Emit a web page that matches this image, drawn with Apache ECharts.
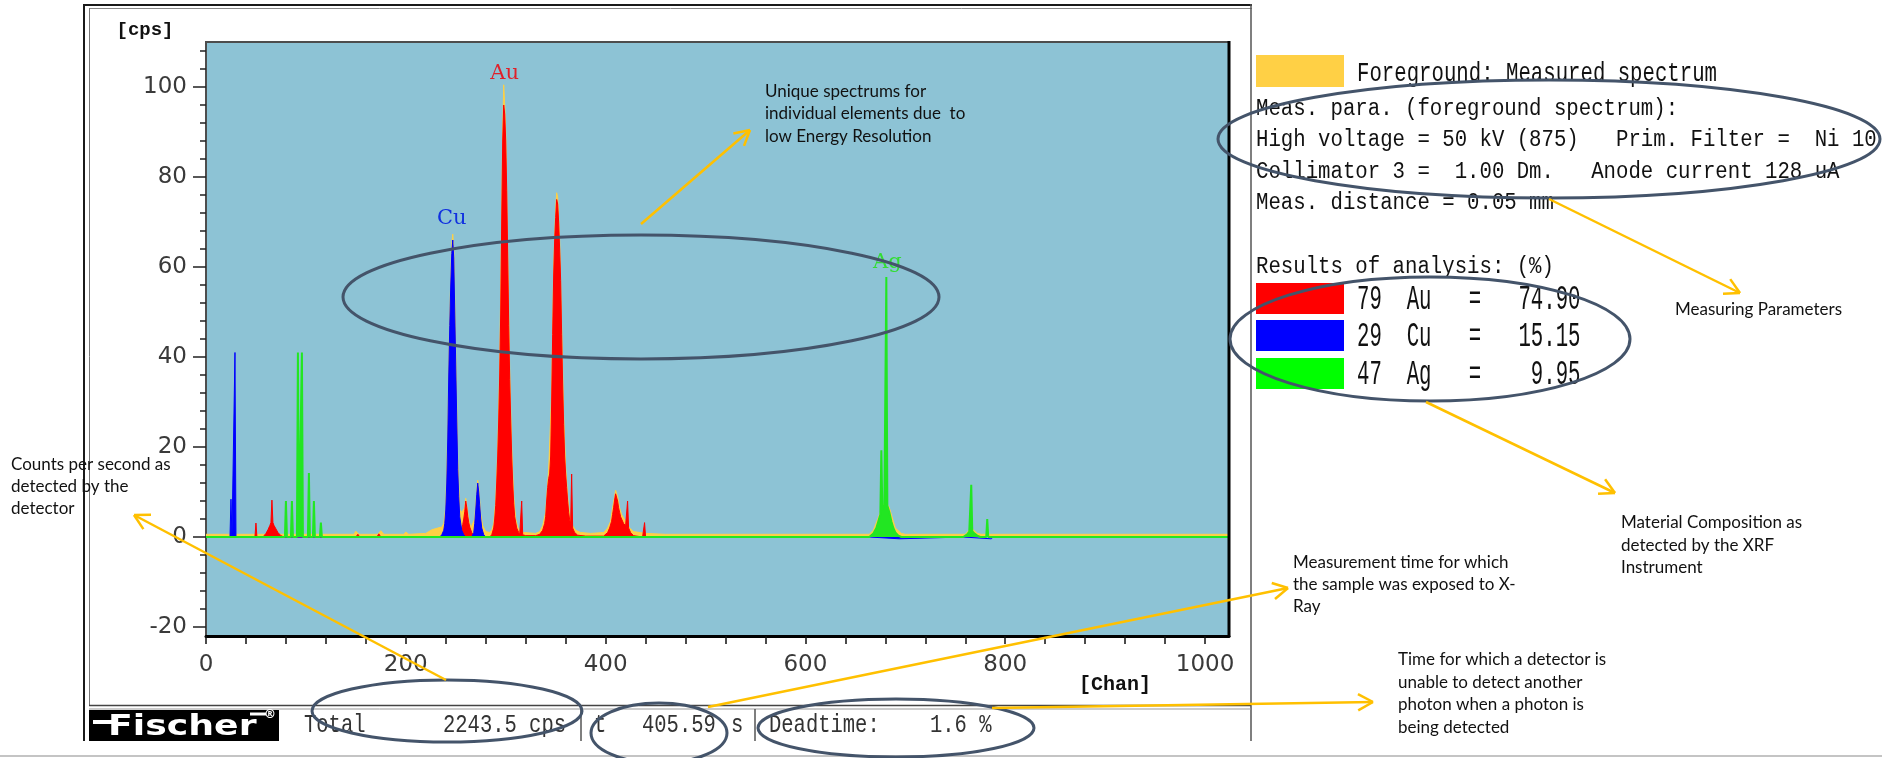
<!DOCTYPE html>
<html><head><meta charset="utf-8">
<script src="https://cdn.jsdelivr.net/npm/echarts@6/dist/echarts.min.js"></script>
<style>html,body{margin:0;padding:0;background:#fff}#c{width:1882px;height:758px}</style>
</head><body><div id="c"></div><script>
// ---------- data ----------
const xTickValues = [0,40,80,120,160,200,240,280,320,360,400,440,480,520,560,600,640,680,720,760,800,840,880,920,960,1000];
const xLabelValues = [0,200,400,600,800,1000];
const yMinorTickValues = [-20,-16,-12,-8,-4,0,4,8,12,16,20,24,28,32,36,40,44,48,52,56,60,64,68,72,76,80,84,88,92,96,100,104,108];
const yLabelValues = [-20,0,20,40,60,80,100];

// [channel, cps]
const auSpectrum = [[44,0],[49,0],[50,3.1],[51,0],[57,0],[60,0.8],[62,1.6],[64,2.6],[65,3.2],[66,8.2],[67,3.2],[68,2.6],[70,1.8],[72,1],[75,0.3],[78,0],[150,0],[152,0.6],[154,0],[171,0],[173,0.7],[175,0],[252,0],[254,0.6],[256,1.6],[257,2.8],[258,4],[259,5.6],[260,8],[261,6.6],[262,4.6],[263,3.2],[264,2.2],[266,1],[268,0.3],[284,0],[286,0.5],[288,2],[289,4],[290,7],[291,12],[292,18],[293,26],[294,36],[295,50],[296,70],[297,88],[298,96],[299,94],[300,88],[301,77],[302,62],[303,47],[304,35],[305,26],[306,18],[307,12],[308,7.5],[309,4.5],[311,2],[313,1],[314,0.5],[315,0.5],[316,8],[317,0.5],[320,0.3],[330,0.3],[334,0.6],[337,1.5],[339,3],[340,4.5],[341,8],[342,11],[343,13],[344,14],[345,18],[346,30],[347,45],[348,58],[349,66],[350,71],[351,75],[352,74],[353,70],[354,64],[355,57],[356,45],[357,34],[358,25],[359,18],[360,14],[361,11],[362,8],[363,5.5],[364,3.8],[365,3],[366,14],[367,2],[369,1],[372,0.4],[380,0.2],[398,0.2],[402,1],[404,2],[406,3.5],[407,5],[408,6.5],[409,8.2],[410,9.6],[411,9.4],[412,8],[413,6.5],[414,5.5],[415,4.5],[416,4],[418,3],[420,2.5],[421,2.5],[422,8],[423,2],[425,1],[428,0.3],[437,0],[438,0],[439,3.2],[440,0],[445,0]];
const cuSpectrum = [[18,0],[24,0],[25,8.4],[26,0],[28,0],[29,41],[30,0],[36,0],[234,0],[236,0.5],[238,1.5],[239,3],[240,6],[241,12],[242,22],[243,36],[244,47],[245,56],[246,63],[247,66],[248,62],[249,50],[250,38],[251,26],[252,15],[253,9],[254,4.5],[256,1.5],[258,0.5],[260,0],[266,0],[268,1],[269,3],[270,6],[271,9.5],[272,12],[273,10],[274,7],[275,4],[276,2],[278,0.5],[280,0],[664,0],[666,-0.4],[694,-0.4],[696,0],[758,0],[760,-0.4],[786,-0.4],[788,0]];
const agSpectrum = [[0,0],[79,0],[80,8],[81,0],[85,0],[86,8],[87,0],[91,0],[92,41],[93,0],[95,0],[96,41],[97,0],[102,0],[103,14.2],[104,0],[107,0],[108,8],[109,0],[114,0],[115,3.2],[116,0],[664,0],[668,0.8],[671,2],[673,3.5],[675,5],[676,19.3],[677,6],[679,7],[680,7.3],[681,57.8],[682,7],[684,5.5],[686,3.5],[688,2],[690,1],[693,0.3],[696,0],[758,0],[762,0.6],[764,1.2],[766,11.6],[767,1.3],[769,0.8],[772,0.3],[775,0],[781,0],[782,4],[783,0],[1024,0]];
const measuredSpectrum = [[0,0.6],[148,0.6],[150,1.3],[153,0.6],[172,0.6],[175,1.4],[178,0.6],[198,0.6],[200,1.1],[203,0.6],[220,0.8],[226,1.6],[232,2],[236,2.2],[238,3],[240,6.5],[242,23],[244,49],[246,65],[247,67.3],[248,64],[250,40],[252,17],[254,6],[256,5.5],[258,5.8],[259,6.5],[260,8.6],[261,7],[263,4],[265,2],[267,1.6],[269,4],[271,10],[272,12.6],[273,11],[275,5],[277,2.5],[280,1.2],[284,1],[286,1.5],[288,3],[290,8],[292,19],[294,38],[296,72],[297,90],[298,100.5],[299,96],[300,90],[302,64],[304,37],[306,20],[308,9],[310,4],[312,2.2],[314,1.2],[318,1],[330,0.8],[334,1.2],[337,2.5],[340,5.5],[343,15],[346,32],[348,60],[350,73],[351,76.5],[352,75.5],[354,66],[356,47],[358,27],[360,15.5],[362,9],[364,5],[367,2.5],[370,1.5],[375,1],[385,0.8],[398,1],[402,2],[405,3.5],[407,6.5],[409,9],[410,10.4],[411,10.2],[412,9],[414,6.5],[416,5],[420,3.5],[424,2],[428,1.2],[440,0.8],[460,0.6],[664,0.6],[668,1.5],[676,6],[680,8],[684,6.5],[690,2],[696,0.8],[700,0.6],[760,0.6],[766,2],[772,0.8],[776,0.6],[1024,0.6]];

const peakNames = ['Au','Cu','Ag'];
const peakLabelChannel = [299,246,682];
const peakLabelCps = [103,70.7,61];

const elementSymbols = ['Au','Cu','Ag'];
const atomicNumbers = [79,29,47];
const compositionPct = [74.90,15.15,9.95];

const totalCps = 2243.5;
const measTimeS = 405.59;
const deadtimePct = 1.6;

// ---------- styles ----------
const MONO = '"Liberation Mono", "DejaVu Sans Mono", monospace';
const ANNOT = 'Lato, "Open Sans", sans-serif';
const RED = '#ff0000', BLUE = '#0000ff', GREEN = '#22e622', YELLOW = '#ffd045';

function peakMark(i, color) {
  return {
    symbol: 'circle', symbolSize: 2, silent: true, animation: false,
    itemStyle: { color: 'rgba(0,0,0,0)' },
    label: { show: true, position: 'inside', formatter: peakNames[i], color: color,
      fontFamily: '"DejaVu Serif", serif', fontSize: 21 },
    data: [{ name: peakNames[i], coord: [peakLabelChannel[i], peakLabelCps[i]] }]
  };
}
function spec(name, data, color, lw, z, mark) {
  const s = { type: 'line', name, data, showSymbol: false, symbol: 'none', smooth: false, z,
    lineStyle: { color, width: lw }, itemStyle: { color },
    areaStyle: { color, opacity: 1, origin: 'auto' }, animation: false, silent: true };
  if (mark) s.markPoint = mark;
  return s;
}

// ---------- graphic helpers ----------
const G = [];
function line(x1,y1,x2,y2,stroke,w,z){ G.push({type:'line',z:z||10,silent:true,shape:{x1,y1,x2,y2},style:{stroke,lineWidth:w}}); }
function txt(x,y,text,font,fill,opts){
  opts = opts||{};
  G.push({type:'text',x,y,z:opts.z||20,silent:true,scaleX:opts.sx||1,scaleY:opts.sy||1,
    style:{text,x:0,y:0,font,fill,align:opts.align||'left',verticalAlign:'middle',textAlign:opts.align||'left',textVerticalAlign:'middle'}});
}
function ellipse(cx,cy,rx,ry){ G.push({type:'ellipse',z:60,silent:true,shape:{cx,cy,rx,ry},style:{fill:'none',stroke:'#44546a',lineWidth:3}}); }
function arrow(x1,y1,x2,y2){
  const c='#ffc000', w=2.5, a=Math.atan2(y2-y1,x2-x1), L=17, sp=0.5;
  line(x1,y1,x2,y2,c,w,70);
  line(x2,y2,x2-L*Math.cos(a-sp),y2-L*Math.sin(a-sp),c,w,70);
  line(x2,y2,x2-L*Math.cos(a+sp),y2-L*Math.sin(a+sp),c,w,70);
}

// frame
line(83,5,1252,5,'#1a1a1a',2);
line(89,8.5,1252,8.5,'#888',1);
line(84,4,84,741,'#1a1a1a',2);
line(89.5,8,89.5,705,'#777',1);
line(1251,4,1251,741,'#555',1.5);
line(89,705.5,1251,705.5,'#444',1.5);
line(89,709,1251,709,'#999',1);
line(581,709,581,741,'#555',1.5);
line(755,709,755,741,'#555',1.5);
line(0,756,1882,756,'#c4c4c4',2);
line(1229,41,1229,637,'#000',3);

// axis names
txt(145,30,'[cps]','bold 19px '+MONO,'#111',{align:'center'});
txt(1115,685,'[Chan]','bold 20px '+MONO,'#111',{align:'center'});

// logo
G.push({type:'rect',z:10,silent:true,shape:{x:89,y:710,width:190,height:31},style:{fill:'#000'}});
txt(108,727,'Fischer','bold 29px "DejaVu Sans", sans-serif','#fff',{sx:1.25});
line(93,722,114,722,'#fff',4,25);
line(250,714,266,714,'#fff',3,25);
txt(270,715,'®','bold 12px "DejaVu Sans", sans-serif','#fff',{align:'center'});

// status bar
const SF = '20.5px '+MONO, SC = '#333';
txt(304,725,'Total',SF,SC,{sy:1.25});
txt(443,725,totalCps.toFixed(1)+' cps',SF,SC,{sy:1.25});
txt(594,725,'t',SF,SC,{sy:1.25});
txt(642,725,measTimeS.toFixed(2),SF,SC,{sy:1.25});
txt(731,725,'s',SF,SC,{sy:1.25});
txt(769,725,'Deadtime:',SF,SC,{sy:1.25});
txt(930,725,deadtimePct.toFixed(1)+' %',SF,SC,{sy:1.25});

// right panel
const PF = '20.7px '+MONO, PC = '#111';
G.push({type:'rect',z:10,silent:true,shape:{x:1256,y:55,width:88,height:32},style:{fill:YELLOW}});
txt(1357,74,'Foreground: Measured spectrum',PF,PC,{sy:1.3});
txt(1256,109,'Meas. para. (foreground spectrum):',PF,PC,{sy:1.15});
txt(1256,140,'High voltage = 50 kV (875)   Prim. Filter =  Ni 10',PF,PC,{sy:1.15});
txt(1256,172,'Collimator 3 =  1.00 Dm.   Anode current 128 uA',PF,PC,{sy:1.15});
txt(1256,203,'Meas. distance = 0.05 mm',PF,PC,{sy:1.15});
txt(1256,267,'Results of analysis: (%)',PF,PC,{sy:1.15});
const swatchColors = [RED, BLUE, '#00ff00'];
const rowY = [300,337,375];
for (let i=0;i<elementSymbols.length;i++){
  G.push({type:'rect',z:10,silent:true,shape:{x:1256,y:rowY[i]-17,width:88,height:31},style:{fill:swatchColors[i]}});
  const t = atomicNumbers[i]+'  '+elementSymbols[i]+'   =   '+compositionPct[i].toFixed(2).padStart(5,' ');
  txt(1357,rowY[i],t,PF,PC,{sy:1.65});
}

// annotation ellipses
ellipse(641,297,298,62);
ellipse(1549,139,331,59);
ellipse(1430,339,200,62);
ellipse(447,711,135,31);
ellipse(659,733,68,30);
ellipse(896,728,138,29);

// annotation arrows
arrow(641,224,750,130);
arrow(1549,199,1740,293);
arrow(1426,402,1615,493);
arrow(446,680,134,515);
arrow(708,707,1288,588);
arrow(992,708,1373,702);

// annotation texts
const AF = '17px '+ANNOT, AC = '#111';
[['Unique spectrums for',92],['individual elements due  to',114],['low Energy Resolution',137]].forEach(r=>txt(765,r[1],r[0],AF,AC,{z:80}));
txt(1675,310,'Measuring Parameters',AF,AC,{z:80});
[['Material Composition as',523],['detected by the XRF',546],['Instrument',568]].forEach(r=>txt(1621,r[1],r[0],AF,AC,{z:80}));
[['Measurement time for which',563],['the sample was exposed to X-',585],['Ray',607]].forEach(r=>txt(1293,r[1],r[0],AF,AC,{z:80}));
[['Time for which a detector is',660],['unable to detect another',683],['photon when a photon is',705],['being detected',728]].forEach(r=>txt(1398,r[1],r[0],AF,AC,{z:80}));
[['Counts per second as',465],['detected by the',487],['detector',509]].forEach(r=>txt(11,r[1],r[0],AF,AC,{z:80}));

// ---------- chart ----------
const chart = echarts.init(document.getElementById('c'), null, {renderer:'canvas'});
const tickLabelStyle = { color:'#3a3a3a', fontFamily:'"DejaVu Sans", sans-serif', fontSize:23, formatter: v => String(v) };
chart.setOption({
  animation: false,
  backgroundColor: '#fff',
  grid: { left:206, top:42, width:1023, height:594, show:true, backgroundColor:'#8dc3d5', borderColor:'#4d4d4d', borderWidth:2, containLabel:false },
  xAxis: [{
    type:'value', min:0, max:1024, position:'bottom',
    axisLine:{ show:true, onZero:false, lineStyle:{ color:'#000', width:3 } },
    axisTick:{ show:true, inside:false, length:8, customValues:xTickValues, lineStyle:{ color:'#111', width:1.5 } },
    axisLabel:{ show:true, customValues:xLabelValues, margin:18, ...tickLabelStyle },
    splitLine:{ show:false }
  }],
  yAxis: [{
    type:'value', min:-22, max:110, position:'left',
    axisLine:{ show:true, onZero:false, lineStyle:{ color:'#4d4d4d', width:2 } },
    axisTick:{ show:true, length:6, customValues:yMinorTickValues, lineStyle:{ color:'#222', width:1.5 } },
    axisLabel:{ show:false },
    splitLine:{ show:false }
  },{
    type:'value', min:-22, max:110, position:'left',
    axisLine:{ show:false, onZero:false },
    axisTick:{ show:true, length:13, customValues:yLabelValues, lineStyle:{ color:'#222', width:1.5 } },
    axisLabel:{ show:true, customValues:yLabelValues, margin:19, ...tickLabelStyle },
    splitLine:{ show:false }
  }],
  series: [
    spec('Foreground: Measured spectrum', measuredSpectrum, YELLOW, 1, 2),
    spec('Au', auSpectrum, RED, 1, 3, peakMark(0,'#e0202a')),
    spec('Cu', cuSpectrum, BLUE, 1, 4, peakMark(1,'#1030e0')),
    spec('Ag', agSpectrum, GREEN, 2, 5, peakMark(2,'#33dd33'))
  ],
  graphic: { elements: G }
});
</script></body></html>
